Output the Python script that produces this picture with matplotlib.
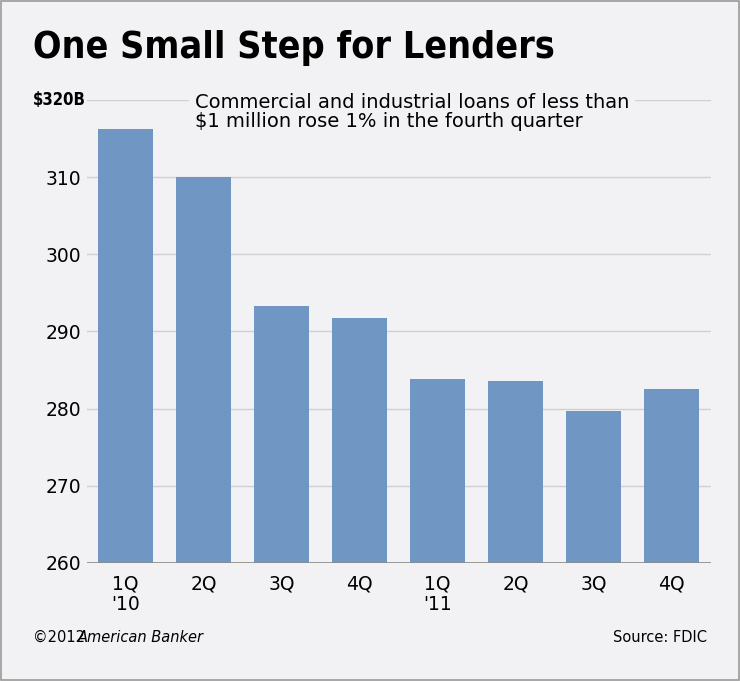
import matplotlib.pyplot as plt
from matplotlib.patches import Rectangle

quarters = ["1Q\n'10", "2Q", "3Q", "4Q", "1Q\n'11", "2Q", "3Q", "4Q"]
loans = [316.2, 310.0, 293.3, 291.8, 283.8, 283.6, 279.7, 282.6]
yticks = [260, 270, 280, 290, 300, 310]

W, H = 740, 681
fig = plt.figure(figsize=(W / 100, H / 100), dpi=100)
bg = "#f2f2f4"
fig.patch.set_facecolor(bg)
fig.patches.append(Rectangle((0.002, 0.002), 0.996, 0.996, transform=fig.transFigure,
                             fill=False, edgecolor="#9a9a9a", lw=1.2))

# axes in pixel coords: left 86.5, right 710.5, top y=100 (320), bottom y=563 (260)
ax = fig.add_axes([86.5 / W, 1 - 563 / H, 624 / W, 463 / H])
ax.set_facecolor(bg)
ax.bar(range(len(loans)), loans, width=0.7, color="#7096c3", zorder=2)
ax.set_xlim(-0.5, 7.5)
ax.set_ylim(260, 320)
ax.set_yticks(yticks)
ax.set_yticklabels([str(v) for v in yticks])
ax.grid(axis="y", color="#cfcfd3", lw=1, zorder=0)
ax.axhline(320, color="#cfcfd3", lw=1, zorder=0)
ax.axhline(260, color="#8a8a8a", lw=1.2, zorder=3)
for s in ax.spines.values():
    s.set_visible(False)
ax.tick_params(axis="y", length=0, pad=4, labelsize=13.5)
ax.tick_params(axis="x", length=0, pad=8, labelsize=13.5)
ax.set_xticks(range(len(quarters)))
ax.set_xticklabels(quarters, linespacing=1.1, va="top")
fig.text(33 / W, 1 - 100 / H, "$320B", ha="left", va="center",
         fontsize=12, fontweight="bold", fontstretch="condensed")

fig.text(33 / W, 1 - 48 / H, "One Small Step for Lenders", fontsize=27,
         fontweight="bold", family="DejaVu Sans", fontstretch="condensed", va="center")
fig.text(195 / W, 1 - 112 / H,
         "Commercial and industrial loans of less than\n$1 million rose 1% in the fourth quarter",
         fontsize=14, va="center", linespacing=1.05,
         bbox=dict(facecolor=bg, edgecolor="none", pad=4))
fig.text(33 / W, 1 - 637 / H, "©2012", fontsize=10.5, va="center")
fig.text(78 / W, 1 - 637 / H, "American Banker", fontsize=10.5, style="italic", va="center")
fig.text(707 / W, 1 - 637 / H, "Source: FDIC", fontsize=10.5, ha="right", va="center")

fig.savefig("out.png", dpi=100, facecolor=bg)
